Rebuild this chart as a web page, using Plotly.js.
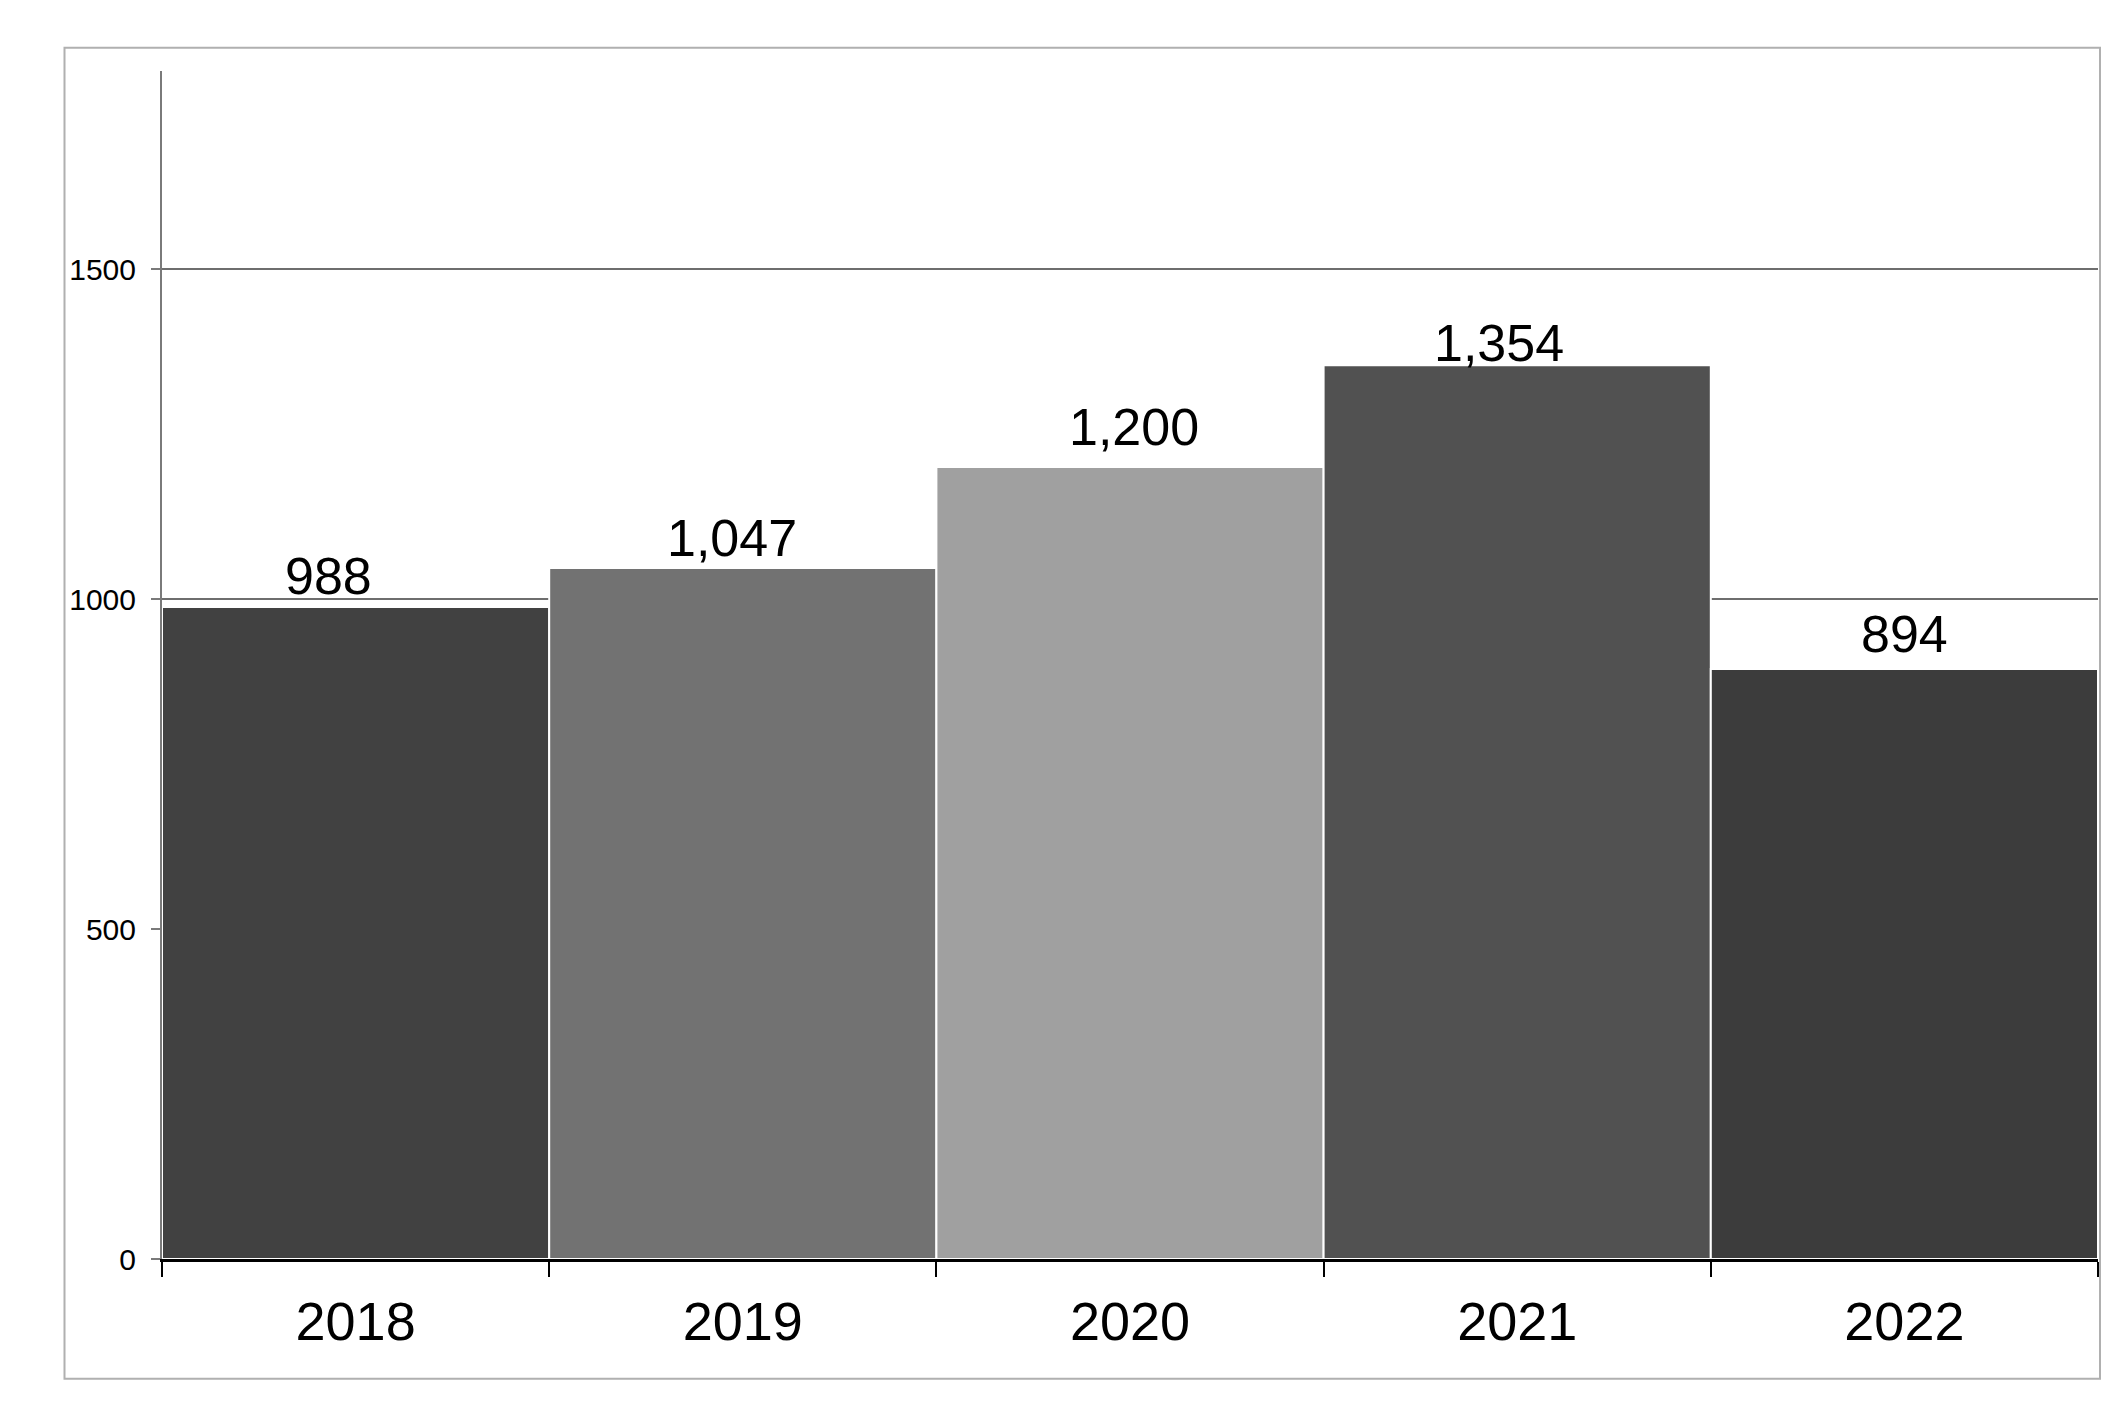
<!DOCTYPE html>
<html>
<head>
<meta charset="utf-8">
<script src="https://cdn.plot.ly/plotly-3.0.1.min.js"></script>
<style>
  html, body { margin: 0; padding: 0; background: #ffffff; }
  #chart { width: 2126px; height: 1417px; }
</style>
</head>
<body>
<div id="chart"></div>
<script>
// ---- Data ----
const years = ["2018", "2019", "2020", "2021", "2022"];
const values = [988, 1047, 1200, 1354, 894];
const valueLabels = ["988", "1,047", "1,200", "1,354", "894"];
const yTickValues = [0, 500, 1000, 1500];
const yTickLabels = ["0", "500", "1000", "1500"];

// ---- Styles (kept apart from data) ----
const barColors = ["#414141", "#727272", "#a0a0a0", "#515151", "#3c3c3c"];
const labelNudgeX = [-27, -11, 4, -18, 0];   // px
const labelNudgeY = [0, -1, 9, -9, 4];       // px

// ---- Layout geometry (pixels) ----
const W = 2126, H = 1417;
const M = { l: 162, r: 28, t: 71, b: 158 };
const plotW = W - M.l - M.r;
const plotH = H - M.t - M.b;
const frame = { x0: 64.5, x1: 2100, y0: 47.7, y1: 1378.7 };
const px2paperX = x => (x - M.l) / plotW;
const px2paperY = y => (H - M.b - y) / plotH;

const font = "Liberation Sans, Arial, Helvetica, sans-serif";

const trace = {
  type: "bar",
  x: years,
  y: values,
  marker: { color: barColors, line: { color: "#ffffff", width: 2 } },
  hoverinfo: "x+y",
  showlegend: false
};

// category index i positions each label over its own bar
const annotations = years.map((yr, i) => ({
  x: i,
  y: values[i],
  xref: "x",
  yref: "y",
  text: valueLabels[i],
  showarrow: false,
  xanchor: "center",
  yanchor: "bottom",
  xshift: labelNudgeX[i],
  yshift: labelNudgeY[i],
  font: { family: font, size: 52, color: "#000000" }
}));

const layout = {
  width: W,
  height: H,
  margin: M,
  paper_bgcolor: "#ffffff",
  plot_bgcolor: "#ffffff",
  bargap: 0,
  font: { family: font, color: "#000000" },
  xaxis: {
    type: "category",
    categoryorder: "array",
    categoryarray: years,
    range: [-0.5, years.length - 0.5],
    autorange: false,
    showline: true,
    linecolor: "#000000",
    linewidth: 3,
    ticks: "outside",
    tickson: "boundaries",
    ticklen: 15,
    tickwidth: 2,
    tickcolor: "#000000",
    tickangle: 0,
    showgrid: false,
    tickfont: { family: font, size: 54, color: "#000000" },
    ticklabelstandoff: 13,
    fixedrange: true
  },
  yaxis: {
    range: [0, 1800],
    autorange: false,
    tickvals: yTickValues,
    ticktext: yTickLabels,
    showline: true,
    linecolor: "#7a7a7a",
    linewidth: 2,
    ticks: "outside",
    ticklen: 9,
    tickwidth: 2,
    tickcolor: "#7a7a7a",
    showgrid: true,
    gridcolor: "#6e6e6e",
    gridwidth: 2.5,
    zeroline: false,
    tickfont: { family: font, size: 30, color: "#000000" },
    ticklabelstandoff: 9,
    fixedrange: true
  },
  annotations: annotations,
  shapes: [
    {
      type: "rect",
      xref: "paper", yref: "paper",
      x0: px2paperX(frame.x0), x1: px2paperX(frame.x1),
      y0: px2paperY(frame.y1), y1: px2paperY(frame.y0),
      line: { color: "#b0b0b0", width: 2 },
      fillcolor: "rgba(0,0,0,0)",
      layer: "below"
    }
  ]
};

Plotly.newPlot("chart", [trace], layout, { displayModeBar: false, staticPlot: true });
</script>
</body>
</html>
